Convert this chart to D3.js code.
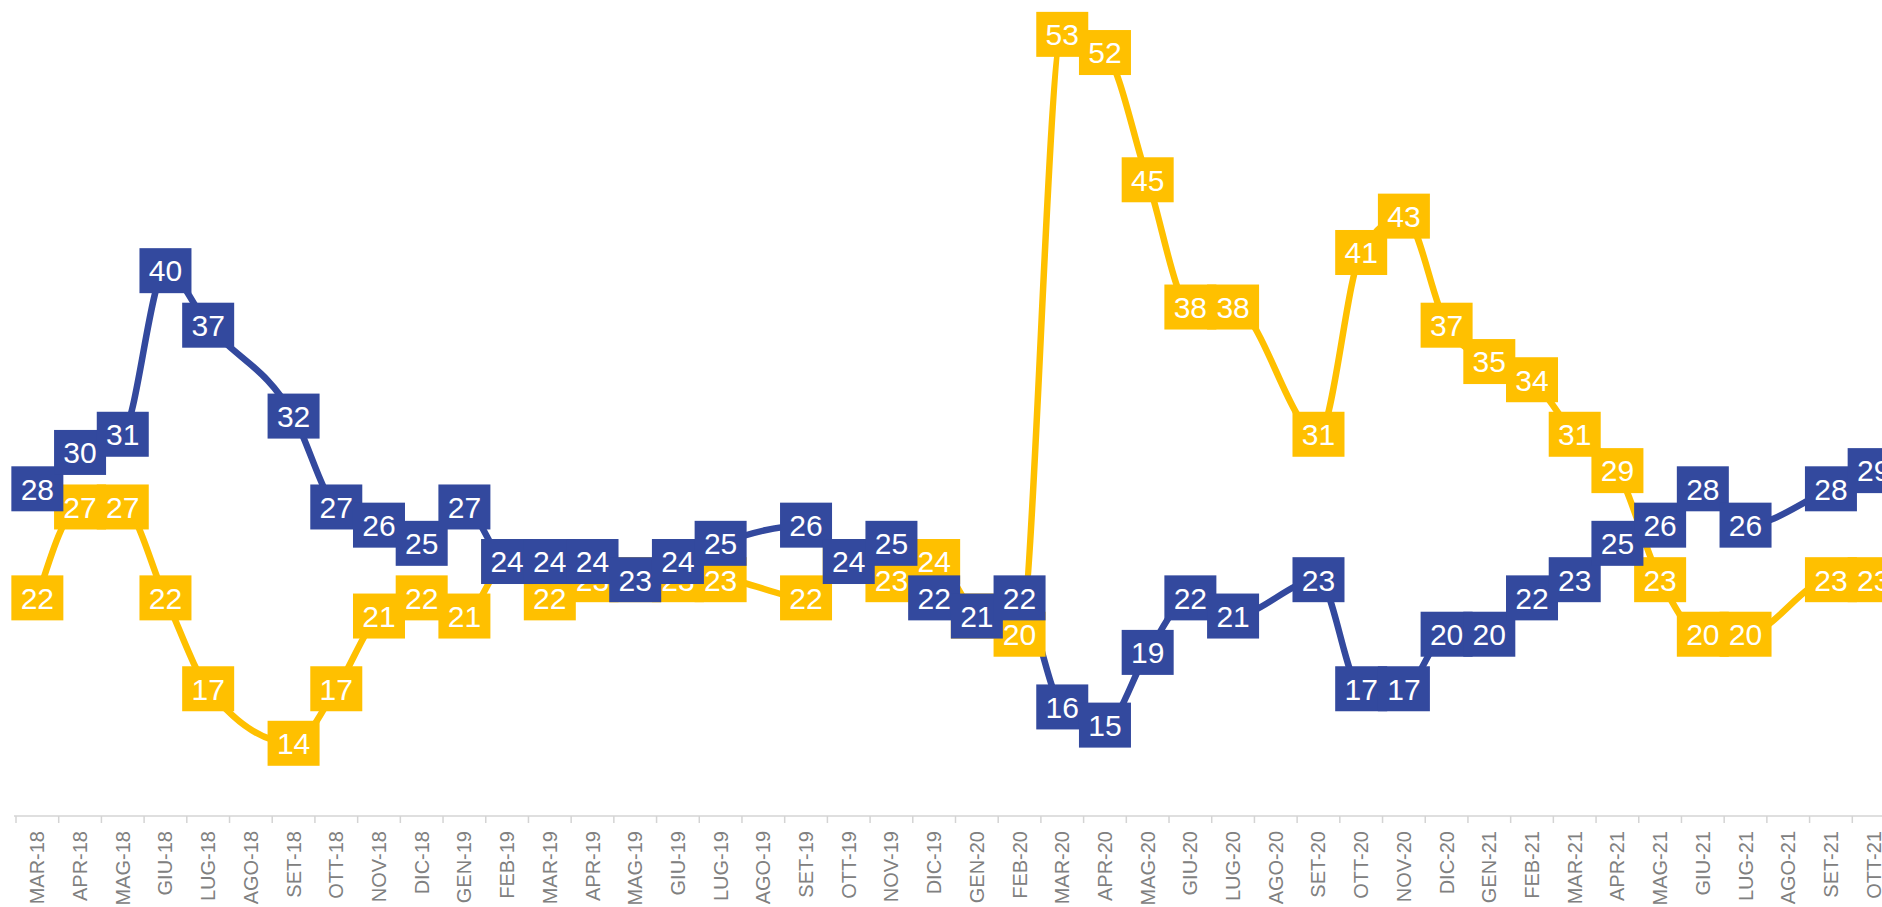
<!DOCTYPE html>
<html>
<head>
<meta charset="utf-8">
<script src="https://cdn.jsdelivr.net/npm/d3@7"></script>
<style>
  body { margin: 0; background: #fff; overflow: hidden; }
</style>
</head>
<body>
<script>
// months (Italian abbreviations), AGO gaps have no survey
const months = ["MAR-18","APR-18","MAG-18","GIU-18","LUG-18","AGO-18","SET-18","OTT-18","NOV-18","DIC-18",
  "GEN-19","FEB-19","MAR-19","APR-19","MAG-19","GIU-19","LUG-19","AGO-19","SET-19","OTT-19","NOV-19","DIC-19",
  "GEN-20","FEB-20","MAR-20","APR-20","MAG-20","GIU-20","LUG-20","AGO-20","SET-20","OTT-20","NOV-20","DIC-20",
  "GEN-21","FEB-21","MAR-21","APR-21","MAG-21","GIU-21","LUG-21","AGO-21","SET-21","OTT-21"];

const blueValues = [28,30,31,40,37,null,32,27,26,25,
  27,24,24,24,23,24,25,null,26,24,25,22,
  21,22,16,15,19,22,21,null,23,17,17,20,
  20,22,23,25,26,28,26,null,28,29];

const yellowValues = [22,27,27,22,17,null,14,17,21,22,
  21,24,22,23,23,23,23,null,22,24,23,24,
  21,20,53,52,45,38,38,null,31,41,43,37,
  35,34,31,29,23,20,20,null,23,23];

const width = 1882
const height = 907
const axisY = 816

const svg = d3.select("body").append("svg")
    .attr("width", width)
    .attr("height", height);

const x = d3.scaleBand()
    .domain(months)
    .range([16, 1895]);

const y = d3.scaleLinear()
    .domain([10, 55])
    .range([axisY, -2]);

const series = [
    { name: "giallo", color: "#ffc000", values: yellowValues },
    { name: "blu", color: "#33499e", values: blueValues }
];

// x axis
const xAxis = svg.append("g")
    .attr("transform", `translate(0,${axisY})`);

xAxis.append("line")
    .attr("x1", 14).attr("x2", width)
    .attr("stroke", "#d4d4d4")
    .attr("stroke-width", 1.5);

xAxis.selectAll("line.tick")
    .data(months)
    .enter()
    .append("line")
    .attr("class", "tick")
    .attr("x1", d => x(d)).attr("x2", d => x(d))
    .attr("y1", 0).attr("y2", 7)
    .attr("stroke", "#d4d4d4")
    .attr("stroke-width", 1.5);

xAxis.selectAll("text")
    .data(months)
    .enter()
    .append("text")
    .text(d => d)
    .attr("transform", d => `translate(${x(d) + x.bandwidth() / 2},15) rotate(-90)`)
    .attr("text-anchor", "end")
    .attr("dy", "0.35em")
    .attr("font-family", "'Liberation Sans', Arial, sans-serif")
    .attr("font-size", 20)
    .attr("fill", "#808080");

const points = s => s.values
    .map((v, i) => ({ m: months[i], v: v }))
    .filter(d => d.v !== null);

// smooth line without overshoot (like the excel one)
const line = d3.line()
    .curve(d3.curveMonotoneX)
    .x(d => x(d.m) + x.bandwidth() / 2)
    .y(d => y(d.v));

// lines first
svg.append("g")
    .selectAll("path")
    .data(series)
    .enter()
    .append("path")
    .attr("d", s => line(points(s)))
    .attr("fill", "none")
    .attr("stroke", s => s.color)
    .attr("stroke-width", 6.5)
    .attr("stroke-linejoin", "round");

// data labels on top
const boxW = 52, boxH = 45;
series.forEach(s => {
    const lab = svg.append("g")
        .selectAll("g")
        .data(points(s))
        .enter()
        .append("g")
        .attr("transform", d => `translate(${x(d.m) + x.bandwidth() / 2},${y(d.v)})`);

    lab.append("rect")
        .attr("x", -boxW / 2).attr("y", -boxH / 2)
        .attr("width", boxW).attr("height", boxH)
        .attr("fill", s.color);

    lab.append("text")
        .text(d => d.v)
        .attr("text-anchor", "middle")
        .attr("dy", "0.36em")
        .attr("font-family", "'Liberation Sans', Arial, sans-serif")
        .attr("font-size", 30)
        .attr("fill", "#fff");
});
</script>
</body>
</html>
